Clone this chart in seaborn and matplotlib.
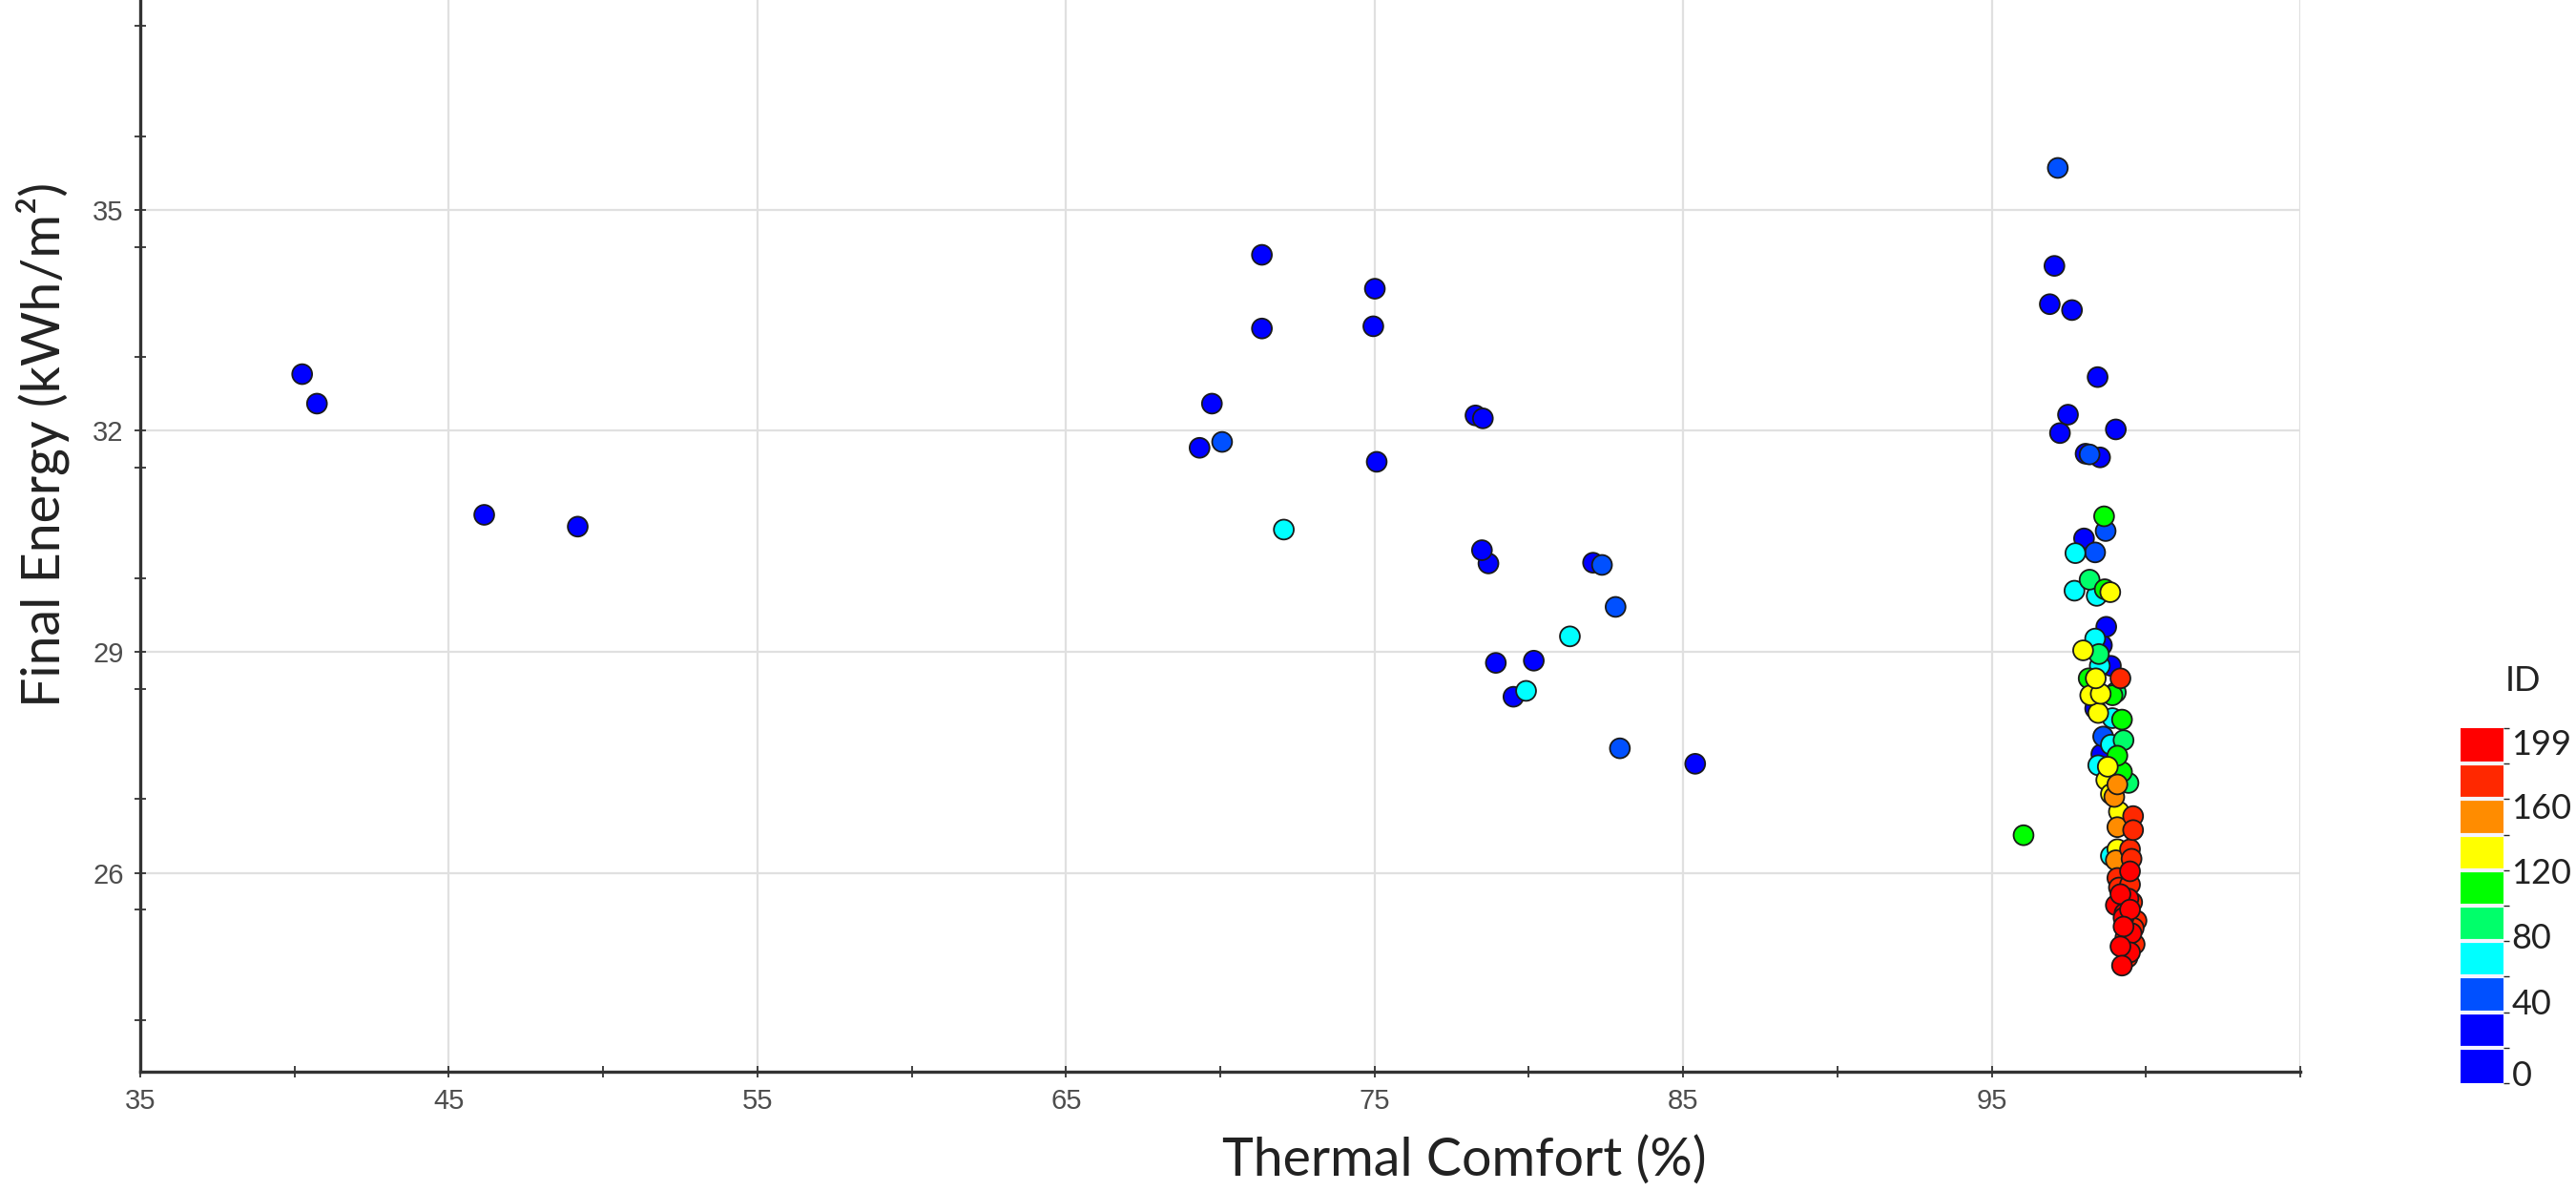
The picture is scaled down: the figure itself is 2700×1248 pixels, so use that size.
import numpy as np
import pandas as pd
import matplotlib
matplotlib.use("Agg")
import matplotlib.pyplot as plt
from matplotlib.colors import ListedColormap, BoundaryNorm
from matplotlib.cm import ScalarMappable
from matplotlib.ticker import MultipleLocator
import seaborn as sns

# ---------------- data ----------------
thermal_comfort = [
    40.25, 40.73, 46.15, 49.18,
    71.35, 75.01, 71.35, 74.96, 69.73, 69.33, 70.06, 78.27, 78.51, 75.07,
    72.06, 78.48, 78.69, 82.08, 82.37, 82.81, 81.33, 78.93, 80.16, 79.50,
    79.91, 82.95, 85.39,
    97.14, 97.03, 96.88, 97.60, 98.43, 97.47, 97.21, 99.02, 98.04, 98.17,
    98.51, 98.64, 98.69, 97.99, 97.71, 98.35,
    97.68, 98.17, 98.40, 98.66, 98.84, 98.71, 98.35, 98.57, 97.96, 98.47,
    98.50, 98.86, 99.17, 98.14, 98.37, 98.19, 98.53, 98.91, 99.02, 98.45,
    98.35, 98.91, 99.22, 98.61, 98.86, 99.27, 98.55, 99.07, 98.45, 98.76,
    99.22, 99.43, 98.71, 99.07, 98.86, 98.97, 99.12, 99.58, 99.07, 99.58,
    96.03, 99.07, 99.48, 99.02, 99.53, 98.86, 99.48, 99.07, 99.48, 99.17,
    99.02, 99.48, 99.69, 99.27, 99.53, 99.63, 99.17, 99.48, 99.22, 99.27,
    99.43, 99.33, 99.40, 99.12, 99.55, 99.30, 99.60,
]
final_energy = [
    32.77, 32.37, 30.86, 30.70,
    34.39, 33.93, 33.39, 33.42, 32.37, 31.77, 31.85, 32.21, 32.17, 31.58,
    30.66, 30.38, 30.20, 30.21, 30.18, 29.61, 29.21, 28.85, 28.88, 28.39,
    28.47, 27.69, 27.48,
    35.57, 34.24, 33.72, 33.64, 32.73, 32.22, 31.97, 32.02, 31.69, 31.68,
    31.64, 30.84, 30.64, 30.54, 30.34, 30.35,
    29.83, 29.98, 29.76, 29.85, 29.81, 29.34, 29.18, 29.09, 29.02, 28.97,
    28.81, 28.81, 28.64, 28.64, 28.64, 28.41, 28.43, 28.41, 28.45, 28.17,
    28.23, 28.10, 28.08, 27.85, 27.74, 27.80, 27.61, 27.59, 27.46, 27.44,
    27.37, 27.22, 27.26, 27.20, 27.07, 27.03, 26.83, 26.77, 26.62, 26.58,
    26.51, 26.32, 26.32, 26.17, 26.19, 26.23, 26.02, 25.93, 25.84, 25.71,
    25.56, 25.50, 25.35, 25.27, 25.18, 25.03, 25.00, 24.92, 24.74, 25.39,
    25.65, 25.12, 24.85, 25.80, 25.60, 25.45, 25.25,
]
design_id = [
    12, 5, 18, 8,
    22, 3, 27, 14, 31, 9, 44, 16, 25, 2,
    66, 20, 11, 29, 41, 48, 63, 7, 24, 30,
    72, 52, 1,
    46, 13, 4, 26, 17, 28, 6, 23, 15, 50,
    30, 104, 53, 19, 68, 43,
    74, 88, 61, 112, 125, 21, 73, 10, 131, 95,
    64, 31, 178, 108, 138, 127, 134, 115, 92, 122,
    28, 75, 103, 51, 69, 84, 32, 118, 59, 141,
    106, 98, 129, 152, 136, 147, 124, 171, 158, 176,
    101, 133, 169, 155, 182, 62, 188, 166, 173, 191,
    186, 194, 180, 196, 189, 165, 198, 192, 199, 193,
    187, 168, 170, 172, 177, 190, 181,
]

id_bounds = [-4.6, 11.4, 33.2, 55.0, 76.8, 98.6, 120.4, 142.2, 164.0, 185.8, 207.6]
id_colors = ["#0000FF", "#0000FF", "#0050FF", "#00FFFF", "#00FF6A",
             "#00FF00", "#FFFF00", "#FF8C00", "#FF2800", "#FF0000"]
id_ticks = [0, 40, 80, 120, 160, 199]

x_ticks = [35, 45, 55, 65, 75, 85, 95, 105]
y_ticks = [26, 29, 32, 35]

df = pd.DataFrame({"Thermal Comfort": thermal_comfort,
                   "Final Energy": final_energy,
                   "ID": design_id}).sort_values("ID", kind="stable")

cmap = ListedColormap(id_colors)
norm = BoundaryNorm(id_bounds, cmap.N)

# ---------------- figure ----------------
sns.set_theme(style="white")
label_font = ["Lato", "DejaVu Sans"]
tick_font = ["Liberation Sans", "DejaVu Sans"]

fig = plt.figure(figsize=(27, 12.48), dpi=100)
ax = fig.add_axes([0.0544, 0.1002, 0.8386, 0.8998])

sns.scatterplot(data=df, x="Thermal Comfort", y="Final Energy", hue="ID",
                palette=cmap, hue_norm=norm, s=225, edgecolor="#1a1a1a",
                linewidth=1.3, legend=False, ax=ax, zorder=3)

ax.set_xlim(35, 105)
ax.set_ylim(23.3, 37.85)
ax.set_xticks(x_ticks)
ax.set_yticks(y_ticks)
ax.xaxis.set_minor_locator(MultipleLocator(5))
ax.yaxis.set_minor_locator(MultipleLocator(1.5))
ax.grid(True, which="major", color="#e0e0e0", linewidth=1.6, zorder=0)
ax.set_axisbelow(True)

for s in ["top", "right"]:
    ax.spines[s].set_visible(False)
for s in ["left", "bottom"]:
    ax.spines[s].set_color("#333333")
    ax.spines[s].set_linewidth(2.4)

ax.tick_params(which="both", bottom=True, left=True, top=False, right=False,
               direction="inout", length=9, width=1.3, color="#333333",
               labelsize=21, labelcolor="#4d4d4d", pad=8)
ax.set_xticklabels([str(t) for t in x_ticks[:-1]] + [""])
for lab in ax.get_xticklabels() + ax.get_yticklabels():
    lab.set_family(tick_font)

ax.set_xlabel("")
ax.set_ylabel("")
fig.text(0.5686, 0.026, "Thermal Comfort (%)", ha="center", va="center",
         fontsize=40, color="#222222", family=label_font)
fig.text(0.0167, 0.627, "Final Energy (kWh/m²)", ha="center", va="center",
         rotation=90, fontsize=40, color="#222222", family=label_font)

# ---------------- discrete colour legend ----------------
cax = fig.add_axes([0.9552, 0.0905, 0.0167, 0.2981])
sm = ScalarMappable(norm=norm, cmap=cmap)
cb = fig.colorbar(sm, cax=cax, ticks=id_ticks, drawedges=True)
cb.outline.set_visible(False)
cb.dividers.set_color("#f4f4ff")
cb.dividers.set_linewidth(3)
cax.tick_params(right=True, length=0, labelsize=26, labelcolor="#222222", pad=6)
for lab in cax.get_yticklabels():
    lab.set_family(label_font)
fig.text(0.9796, 0.4279, "ID", ha="center", va="center", fontsize=26,
         color="#222222", family=label_font)

fig.savefig("out.png", dpi=100, facecolor="white")
